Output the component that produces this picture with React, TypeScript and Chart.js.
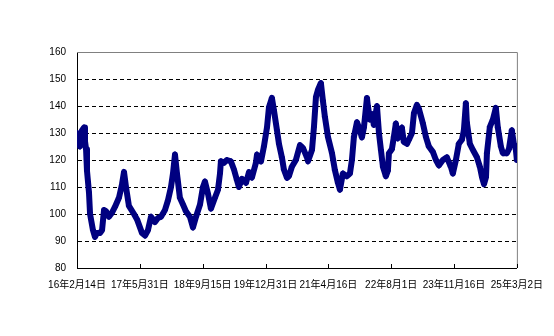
import React, { useEffect, useRef } from "react";
import { Chart, registerables } from "chart.js";

Chart.register(...registerables);

// Days elapsed since 2016-02-14 for each observation
const startDate = "2016-02-14";
const dayOffsets = [
  0, 8, 15, 23, 38, 53, 60, 68, 75, 90, 98, 120, 135, 150, 173, 188, 203, 218, 240, 263,
  285, 315, 338, 353, 368, 390, 428, 451, 488, 511, 533, 556, 586, 608, 631, 661, 683, 706, 721, 736,
  751, 773, 796, 818, 848, 871, 894, 924, 946, 961, 984, 1006, 1036, 1059, 1074, 1081, 1104, 1126, 1156, 1179,
  1201, 1216, 1239, 1269, 1292, 1314, 1344, 1352, 1382, 1404, 1427, 1442, 1464, 1479, 1502, 1517, 1539, 1554, 1577, 1592,
  1614, 1644, 1675, 1697, 1727, 1735, 1765, 1780, 1795, 1810, 1832, 1847, 1862, 1885, 1915, 1937, 1960, 1975, 1997, 2027,
  2050, 2065, 2080, 2103, 2118, 2140, 2155, 2178, 2185, 2200, 2215, 2230, 2253, 2268, 2283, 2298, 2320, 2335, 2343, 2365,
  2380, 2395, 2410, 2418, 2440, 2455, 2478, 2493, 2516, 2531, 2553, 2568, 2598, 2621, 2643, 2673, 2696, 2718, 2748, 2778,
  2808, 2823, 2846, 2868, 2891, 2906, 2921, 2928, 2951, 2974, 3004, 3026, 3042, 3057, 3072, 3079, 3101, 3124, 3146, 3161,
  3184, 3199, 3229, 3244, 3266, 3281, 3296, 3304,
];

const indexValues = [
  130, 126, 129, 125, 131, 132, 127, 124, 116, 108, 100, 94, 91.5, 93, 93, 94, 101.5, 101, 99, 100.5,
  102.6, 106, 111, 115.6, 110, 103, 100, 98, 93, 92, 94, 99, 97, 98.5, 99, 101.5, 105, 110, 115, 122,
  115, 106, 103.5, 101, 99, 95, 99, 103.5, 110, 112, 107.5, 102, 106, 109, 115, 119.5, 119, 120, 119.5, 116.5,
  112.6, 110, 113, 111.5, 115.5, 113.5, 119, 122, 119.5, 125, 132, 139.6, 143, 138.5, 131, 126, 121, 116.5, 113.4, 114,
  117.5, 120, 125.5, 124.5, 121, 119.5, 123.7, 132.3, 143.4, 146, 148.5, 142, 136, 128.5, 122.6, 116.3, 111.5, 109, 115, 114,
  115, 120, 128.6, 134, 132, 128.4, 132, 143, 140, 135, 137, 133, 140, 130, 123.7, 117.5, 114, 116, 122.5, 124,
  128.5, 133.5, 128, 131, 132, 126.7, 126, 127.5, 130, 137.4, 140.4, 139, 133.6, 128.5, 125, 123, 120, 118, 120, 121,
  117.5, 115, 120, 126, 127.5, 131, 141, 134, 126, 123.7, 121, 117.5, 113.6, 111, 113.6, 122.5, 132.3, 135, 139.3, 132,
  125, 122.5, 122.5, 124, 131, 126, 124, 120,
];

const xTickLabels = [
  "16年2月14日",
  "17年5月31日",
  "18年9月15日",
  "19年12月31日",
  "21年4月16日",
  "22年8月1日",
  "23年11月16日",
  "25年3月2日",
];
const xTickStepDays = 472;
const xSpanDays = 3304;
const yMin = 80;
const yMax = 160;
const yStep = 10;

const FONT = "'Liberation Sans', Arial, 'Noto Sans CJK SC', sans-serif";

const framePlugin = {
  id: "frame",
  beforeDatasetsDraw(chart: any) {
    const { ctx, chartArea } = chart;
    const { left, right, top, bottom } = chartArea;
    ctx.save();
    ctx.strokeStyle = "#808080";
    ctx.lineWidth = 1;
    ctx.beginPath();
    ctx.moveTo(left, top + 0.5);
    ctx.lineTo(right + 0.5, top + 0.5);
    ctx.lineTo(right + 0.5, bottom);
    ctx.stroke();
    // inward tick marks on the x axis
    const xs = chart.scales.x;
    ctx.strokeStyle = "#000000";
    ctx.beginPath();
    xs.ticks.forEach((_t: any, i: number) => {
      const px = Math.round(xs.getPixelForTick(i)) + 0.5;
      ctx.moveTo(px, bottom);
      ctx.lineTo(px, bottom - 4);
    });
    ctx.stroke();
    ctx.restore();
  },
};

export default function App() {
  const canvasRef = useRef<HTMLCanvasElement | null>(null);

  useEffect(() => {
    if (!canvasRef.current) return;
    const data = dayOffsets.map((d, i) => ({ x: d, y: indexValues[i] }));
    const chart = new Chart(canvasRef.current, {
      type: "line",
      data: {
        datasets: [
          {
            label: startDate,
            data,
            borderColor: "#000080",
            backgroundColor: "#000080",
            borderWidth: 6,
            borderJoinStyle: "round",
            borderCapStyle: "round",
            pointStyle: "cross",
            pointRadius: 3,
            pointBorderWidth: 1.5,
            pointBorderColor: "#000080",
            tension: 0,
            fill: false,
          },
        ],
      },
      options: {
        animation: false,
        responsive: false,
        maintainAspectRatio: false,
        layout: { padding: { left: 0, right: 37, top: 52, bottom: 0 } },
        plugins: {
          legend: { display: false },
          tooltip: { enabled: false },
        },
        scales: {
          x: {
            type: "linear",
            min: 0,
            max: xSpanDays,
            grid: { display: false, drawTicks: false },
            border: { display: true, color: "#000000", width: 1 },
            ticks: {
              stepSize: xTickStepDays,
              autoSkip: false,
              maxRotation: 0,
              padding: 11,
              color: "#000000",
              font: { family: FONT, size: 10 },
              callback: (v: any) => xTickLabels[Math.round(Number(v) / xTickStepDays)] ?? "",
            },
            afterFit: (s: any) => {
              s.height = 68;
            },
          },
          y: {
            min: yMin,
            max: yMax,
            grid: {
              drawTicks: false,
              color: (c: any) =>
                c.tick && (c.tick.value === yMax || c.tick.value === yMin) ? "rgba(0,0,0,0)" : "#000000",
              lineWidth: 1,
            },
            border: { display: true, color: "#000000", width: 1, dash: [4, 3] },
            ticks: {
              stepSize: yStep,
              padding: 11,
              color: "#000000",
              font: { family: FONT, size: 10 },
            },
            afterFit: (s: any) => {
              s.width = 77;
            },
          },
        },
      },
      plugins: [framePlugin],
    });
    return () => chart.destroy();
  }, []);

  return (
    <div style={{ position: "fixed", left: 0, top: 0, width: 554, height: 336, background: "#fff" }}>
      <canvas ref={canvasRef} width={554} height={336} style={{ width: 554, height: 336 }} />
    </div>
  );
}
